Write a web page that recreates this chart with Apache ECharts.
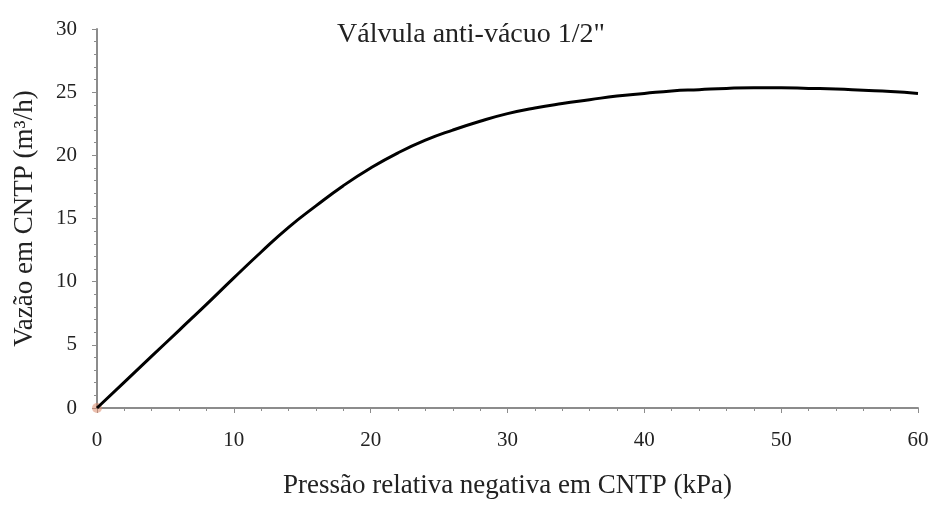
<!DOCTYPE html>
<html>
<head>
<meta charset="utf-8">
<script src="https://cdn.jsdelivr.net/npm/echarts@6/dist/echarts.min.js"></script>
<style>
  html, body { margin: 0; padding: 0; background: #fff; }
  #chart { width: 933px; height: 506px; }
</style>
</head>
<body>
<div id="chart"></div>
<script>
  // pressão (kPa) e vazão (m3/h)
  var pressao = [0, 2, 4, 6, 8, 10, 12, 14, 16, 18, 20, 22, 24, 26, 28, 30, 32, 34, 36, 38, 40, 42, 44, 46, 48, 50, 52, 54, 56, 58, 60]
  var vazao = [0, 2.05, 4.1, 6.15, 8.2, 10.3, 12.35, 14.3, 16.0, 17.6, 19.0, 20.2, 21.2, 22.0, 22.7, 23.3, 23.75, 24.1, 24.4, 24.7, 24.9, 25.1, 25.2, 25.3, 25.35, 25.35, 25.3, 25.25, 25.15, 25.05, 24.9]
  var origem = [[0, 0]]

  var serif = 'Liberation Serif'
  var axisGray = '#8c8c8c'

  var chart = echarts.init(document.getElementById('chart'))
  var option = {
    animation: false,
    backgroundColor: '#fff',
    title: {
      text: 'Válvula anti-vácuo 1/2"',
      left: 466,
      top: 16,
      textAlign: 'center',
      textStyle: { fontFamily: serif, fontSize: 28, fontWeight: 'normal', color: '#222' }
    },
    grid: { left: 97, right: 15, top: 29, bottom: 98 },
    xAxis: {
      type: 'value',
      min: 0,
      max: 60,
      interval: 10,
      name: 'Pressão relativa negativa em CNTP (kPa)',
      nameLocation: 'middle',
      nameGap: 64,
      nameTextStyle: { fontFamily: serif, fontSize: 27, color: '#222' },
      axisLine: { show: true, lineStyle: { color: axisGray, width: 2 } },
      axisTick: { show: true, length: 5, lineStyle: { color: axisGray } },
      minorTick: { show: true, splitNumber: 5, length: 3, lineStyle: { color: axisGray } },
      splitLine: { show: false },
      axisLabel: { fontFamily: serif, fontSize: 21, color: '#222', margin: 22 }
    },
    yAxis: {
      type: 'value',
      min: 0,
      max: 30,
      interval: 5,
      name: 'Vazão em CNTP (m³/h)',
      nameLocation: 'middle',
      nameGap: 59,
      nameRotate: 90,
      nameTextStyle: { fontFamily: serif, fontSize: 27, color: '#222' },
      axisLine: { show: true, lineStyle: { color: axisGray, width: 2 } },
      axisTick: { show: true, length: 5, lineStyle: { color: axisGray } },
      minorTick: { show: true, splitNumber: 5, length: 3, lineStyle: { color: axisGray } },
      splitLine: { show: false },
      axisLabel: { fontFamily: serif, fontSize: 21, color: '#222', margin: 20 }
    },
    series: [
      {
        type: 'line',
        data: pressao.map(function (p, i) { return [p, vazao[i]] }),
        smooth: true,
        showSymbol: false,
        lineStyle: { color: '#000', width: 3 }
      },
      {
        type: 'scatter',
        data: origem,
        symbolSize: 10,
        itemStyle: { color: 'rgba(220, 140, 110, 0.7)' }
      }
    ]
  }
  chart.setOption(option)
</script>
</body>
</html>
